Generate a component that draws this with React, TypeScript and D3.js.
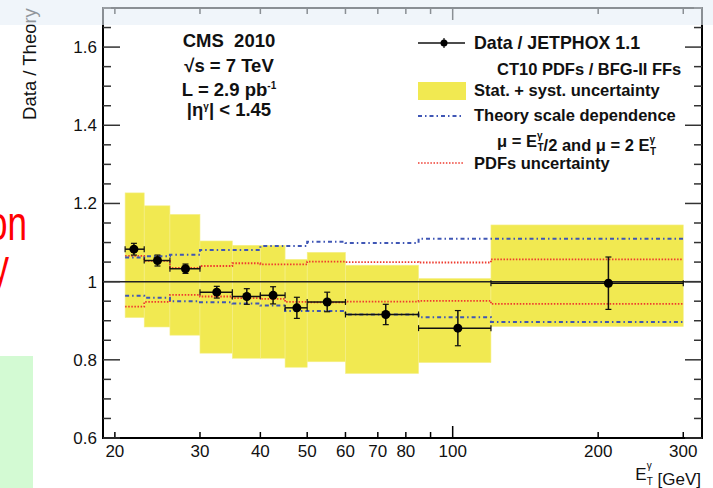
import React, { useEffect, useRef } from "react";
import * as d3 from "d3";

// bin edges in E_T^gamma [GeV]
const binEdges = [21, 23, 26, 30, 35, 40, 45, 50, 60, 85, 120, 300];
// data points (mean E_T in bin) and Data / Theory ratio
const pointEt = [21.9, 24.5, 28.0, 32.5, 37.5, 42.5, 47.6, 55.0, 72.7, 102.5, 210];
const ratio = [1.083, 1.054, 1.033, 0.973, 0.962, 0.965, 0.933, 0.948, 0.916, 0.881, 0.996];
const statErr = [0.015, 0.014, 0.012, 0.015, 0.02, 0.022, 0.027, 0.025, 0.026, 0.045, 0.067];
// stat + syst band
const bandHigh = [1.227, 1.194, 1.172, 1.104, 1.093, 1.093, 1.057, 1.075, 1.042, 1.008, 1.145];
const bandLow = [0.908, 0.884, 0.863, 0.817, 0.804, 0.804, 0.781, 0.795, 0.765, 0.793, 0.885];
// theory scale dependence
const scaleHigh = [1.062, 1.065, 1.069, 1.081, 1.081, 1.091, 1.091, 1.102, 1.099, 1.11, 1.11];
const scaleLow = [0.964, 0.959, 0.95, 0.947, 0.944, 0.939, 0.925, 0.925, 0.916, 0.909, 0.897];
// PDF uncertainty
const pdfHigh = [1.066, 1.053, 1.035, 1.04, 1.047, 1.044, 1.044, 1.051, 1.05, 1.049, 1.057];
const pdfLow = [0.936, 0.948, 0.966, 0.962, 0.958, 0.956, 0.948, 0.947, 0.949, 0.951, 0.943];

const xTickValues = [20, 30, 40, 50, 60, 70, 80, 90, 100, 200, 300];
const xTickLabels = [20, 30, 40, 50, 60, 70, 80, 100, 200, 300];
const yMajorTicks = [0.6, 0.8, 1.0, 1.2, 1.4, 1.6];

const FONT = "Liberation Sans, Arial, Helvetica, sans-serif";
const YELLOW = "#f1e951";
const BLUE = "#3f56b5";
const RED = "#ee3a2e";

export default function App() {
  const svgRef = useRef<SVGSVGElement | null>(null);

  useEffect(() => {
    if (!svgRef.current) return;
    const root = d3.select(svgRef.current);
    root.selectAll("*").remove();

    const W = 713;
    const H = 488;
    const left = 103;
    const right = 702;
    const top = 8;
    const bottom = 438;

    const x = d3.scaleLog().domain([18.9, 328]).range([left, right]);
    const y = d3.scaleLinear().domain([0.6, 1.7]).range([bottom, top]);

    root.append("rect").attr("width", W).attr("height", H).attr("fill", "#fff");

    // slide leftovers on the left
    root
      .append("rect")
      .attr("x", 0)
      .attr("y", 356)
      .attr("width", 33)
      .attr("height", H - 356)
      .attr("fill", "#d3fad3");
    root
      .append("text")
      .attr("transform", "translate(27,240) scale(0.73,1)")
      .attr("text-anchor", "end")
      .attr("fill", "#ff0000")
      .attr("font-family", FONT)
      .attr("font-size", "48px")
      .text("on");
    root
      .append("text")
      .attr("transform", "translate(9,283) scale(0.73,1)")
      .attr("text-anchor", "end")
      .attr("fill", "#ff0000")
      .attr("font-family", FONT)
      .attr("font-size", "48px")
      .text("y");

    const g = root.append("g");

    // stat + syst boxes
    g.selectAll("rect.band")
      .data(bandHigh)
      .enter()
      .append("rect")
      .attr("class", "band")
      .attr("x", (_d, i) => x(binEdges[i]))
      .attr("width", (_d, i) => x(binEdges[i + 1]) - x(binEdges[i]))
      .attr("y", (d) => y(d))
      .attr("height", (d, i) => y(bandLow[i]) - y(d))
      .attr("fill", YELLOW)
      .attr("stroke", "#f5ef8c")
      .attr("stroke-width", 0.6);

    // line at 1
    g.append("line")
      .attr("x1", left)
      .attr("x2", right)
      .attr("y1", y(1))
      .attr("y2", y(1))
      .attr("stroke", "#222")
      .attr("stroke-width", 1.5);

    const stepLine = d3
      .line<[number, number]>()
      .x((d) => x(d[0]))
      .y((d) => y(d[1]))
      .curve(d3.curveStepAfter);
    const stepPoints = (vals: number[]) => {
      const pts: [number, number][] = vals.map((v, i) => [binEdges[i], v]);
      pts.push([binEdges[binEdges.length - 1], vals[vals.length - 1]]);
      return pts;
    };

    [pdfHigh, pdfLow].forEach((vals) => {
      g.append("path")
        .attr("d", stepLine(stepPoints(vals)))
        .attr("fill", "none")
        .attr("stroke", RED)
        .attr("stroke-width", 1.8)
        .attr("stroke-dasharray", "1.5 1.6");
    });
    [scaleHigh, scaleLow].forEach((vals) => {
      g.append("path")
        .attr("d", stepLine(stepPoints(vals)))
        .attr("fill", "none")
        .attr("stroke", BLUE)
        .attr("stroke-width", 2)
        .attr("stroke-dasharray", "4 3 1.5 3");
    });

    // data points
    const pts = g.selectAll("g.pt").data(ratio).enter().append("g").attr("class", "pt");
    pts
      .append("line")
      .attr("x1", (_d, i) => x(binEdges[i]))
      .attr("x2", (_d, i) => x(binEdges[i + 1]))
      .attr("y1", (d) => y(d))
      .attr("y2", (d) => y(d))
      .attr("stroke", "#111")
      .attr("stroke-width", 1.5);
    pts
      .append("line")
      .attr("x1", (_d, i) => x(pointEt[i]))
      .attr("x2", (_d, i) => x(pointEt[i]))
      .attr("y1", (d, i) => y(d + statErr[i]))
      .attr("y2", (d, i) => y(d - statErr[i]))
      .attr("stroke", "#111")
      .attr("stroke-width", 1.5);
    [1, -1].forEach((s) => {
      pts
        .append("line")
        .attr("x1", (_d, i) => x(pointEt[i]) - 3)
        .attr("x2", (_d, i) => x(pointEt[i]) + 3)
        .attr("y1", (d, i) => y(d + s * statErr[i]))
        .attr("y2", (d, i) => y(d + s * statErr[i]))
        .attr("stroke", "#111")
        .attr("stroke-width", 1.2);
    });
    [0, 1].forEach((k) => {
      pts
        .append("line")
        .attr("x1", (_d, i) => x(binEdges[i + k]))
        .attr("x2", (_d, i) => x(binEdges[i + k]))
        .attr("y1", (d) => y(d) - 3)
        .attr("y2", (d) => y(d) + 3)
        .attr("stroke", "#111")
        .attr("stroke-width", 1.2);
    });
    pts
      .append("circle")
      .attr("cx", (_d, i) => x(pointEt[i]))
      .attr("cy", (d) => y(d))
      .attr("r", 4.5)
      .attr("fill", "#000");

    // frame
    g.append("rect")
      .attr("x", left)
      .attr("y", top)
      .attr("width", right - left)
      .attr("height", bottom - top)
      .attr("fill", "none")
      .attr("stroke", "#000")
      .attr("stroke-width", 2);

    // x ticks (bottom + top)
    xTickValues.forEach((v) => {
      const len = v === 100 ? 12 : 6;
      g.append("line")
        .attr("x1", x(v))
        .attr("x2", x(v))
        .attr("y1", bottom)
        .attr("y2", bottom - len)
        .attr("stroke", "#000")
        .attr("stroke-width", 1.5);
      g.append("line")
        .attr("x1", x(v))
        .attr("x2", x(v))
        .attr("y1", top)
        .attr("y2", top + len)
        .attr("stroke", "#000")
        .attr("stroke-width", 1.5);
    });
    xTickLabels.forEach((v) => {
      g.append("text")
        .attr("x", x(v))
        .attr("y", 457)
        .attr("text-anchor", "middle")
        .attr("font-family", FONT)
        .attr("font-size", "17px")
        .attr("fill", "#111")
        .text(String(v));
    });

    // y ticks (left + right)
    d3.range(0, 23).forEach((k) => {
      const v = 0.6 + k * 0.05;
      const major = k % 4 === 0;
      const len = major ? 17 : 8;
      g.append("line")
        .attr("x1", left)
        .attr("x2", left + len)
        .attr("y1", y(v))
        .attr("y2", y(v))
        .attr("stroke", "#333")
        .attr("stroke-width", 1.5);
      g.append("line")
        .attr("x1", right)
        .attr("x2", right - len)
        .attr("y1", y(v))
        .attr("y2", y(v))
        .attr("stroke", "#333")
        .attr("stroke-width", 1.5);
    });
    yMajorTicks.forEach((v) => {
      g.append("text")
        .attr("x", 97)
        .attr("y", y(v) + 6)
        .attr("text-anchor", "end")
        .attr("font-family", FONT)
        .attr("font-size", "17px")
        .attr("fill", "#111")
        .text(d3.format("~g")(v));
    });

    // axis titles
    root
      .append("text")
      .attr("transform", "translate(36,64) rotate(-90)")
      .attr("text-anchor", "middle")
      .attr("font-family", FONT)
      .attr("font-size", "18.5px")
      .attr("fill", "#111")
      .text("Data / Theory");

    const addEt = (sel: any, up: number, down: number) => {
      sel.append("tspan").text("E");
      sel.append("tspan").attr("font-size", "10px").attr("dy", -up).text("γ");
      sel.append("tspan").attr("font-size", "10px").attr("dx", -5).attr("dy", up + down).text("T");
      sel.append("tspan").attr("dy", -down).text("");
    };

    const xt = root
      .append("text")
      .attr("x", 701)
      .attr("y", 480)
      .attr("text-anchor", "end")
      .attr("font-family", FONT)
      .attr("font-size", "17px")
      .attr("fill", "#111");
    addEt(xt, 11, 5);
    xt.append("tspan").text(" [GeV]");

    // CMS label block
    const bold = (tx: number, ty: number, anchor = "middle", size = 16.5) =>
      g
        .append("text")
        .attr("x", tx)
        .attr("y", ty)
        .attr("text-anchor", anchor)
        .attr("font-family", FONT)
        .attr("font-size", `${size}px`)
        .attr("font-weight", "bold")
        .attr("fill", "#111")
        .style("white-space", "pre");
    bold(229, 47, "middle", 18.5).text("CMS  2010");
    bold(229, 72, "middle", 18.5).text("√s = 7 TeV");
    const lum = bold(229, 96, "middle", 18.5);
    lum.append("tspan").text("L = 2.9 pb");
    lum.append("tspan").attr("font-size", "10px").attr("dy", -7).text("-1");
    const eta = bold(229, 116, "middle", 18.5);
    eta.append("tspan").text("|η");
    eta.append("tspan").attr("font-size", "10px").attr("dy", -6).text("γ");
    eta.append("tspan").attr("dy", 6).text("| < 1.45");

    // legend
    g.append("line")
      .attr("x1", 418)
      .attr("x2", 465)
      .attr("y1", 43)
      .attr("y2", 43)
      .attr("stroke", "#111")
      .attr("stroke-width", 1.5);
    g.append("line")
      .attr("x1", 444)
      .attr("x2", 444)
      .attr("y1", 38)
      .attr("y2", 48)
      .attr("stroke", "#111")
      .attr("stroke-width", 1.2);
    g.append("circle").attr("cx", 444).attr("cy", 43).attr("r", 3.5).attr("fill", "#000");
    bold(474, 49, "start", 17.8).text("Data / JETPHOX 1.1");
    bold(497, 75, "start").text("CT10 PDFs / BFG-II FFs");
    g.append("rect")
      .attr("x", 418)
      .attr("y", 82)
      .attr("width", 48)
      .attr("height", 18)
      .attr("fill", YELLOW);
    bold(474, 96, "start").text("Stat. + syst. uncertainty");
    g.append("line")
      .attr("x1", 418)
      .attr("x2", 462)
      .attr("y1", 116)
      .attr("y2", 116)
      .attr("stroke", BLUE)
      .attr("stroke-width", 2)
      .attr("stroke-dasharray", "4 3 1.5 3");
    bold(474, 121, "start").text("Theory scale dependence");
    const mu = bold(497, 147, "start");
    mu.append("tspan").text("μ = ");
    addEt(mu, 8, 4);
    mu.append("tspan").text("/2 and μ = 2 ");
    addEt(mu, 8, 4);
    g.append("line")
      .attr("x1", 418)
      .attr("x2", 463)
      .attr("y1", 163)
      .attr("y2", 163)
      .attr("stroke", RED)
      .attr("stroke-width", 1.5)
      .attr("stroke-dasharray", "1.5 1.6");
    bold(474, 169, "start").text("PDFs uncertainty");

    // translucent slide header band over the top
    root
      .append("rect")
      .attr("x", 0)
      .attr("y", 0)
      .attr("width", W)
      .attr("height", 25)
      .attr("fill", "#e6eef7")
      .attr("opacity", 0.6);
  }, []);

  return (
    <div style={{ position: "absolute", left: 0, top: 0 }}>
      <svg ref={svgRef} width={713} height={488} style={{ display: "block" }}></svg>
    </div>
  );
}
